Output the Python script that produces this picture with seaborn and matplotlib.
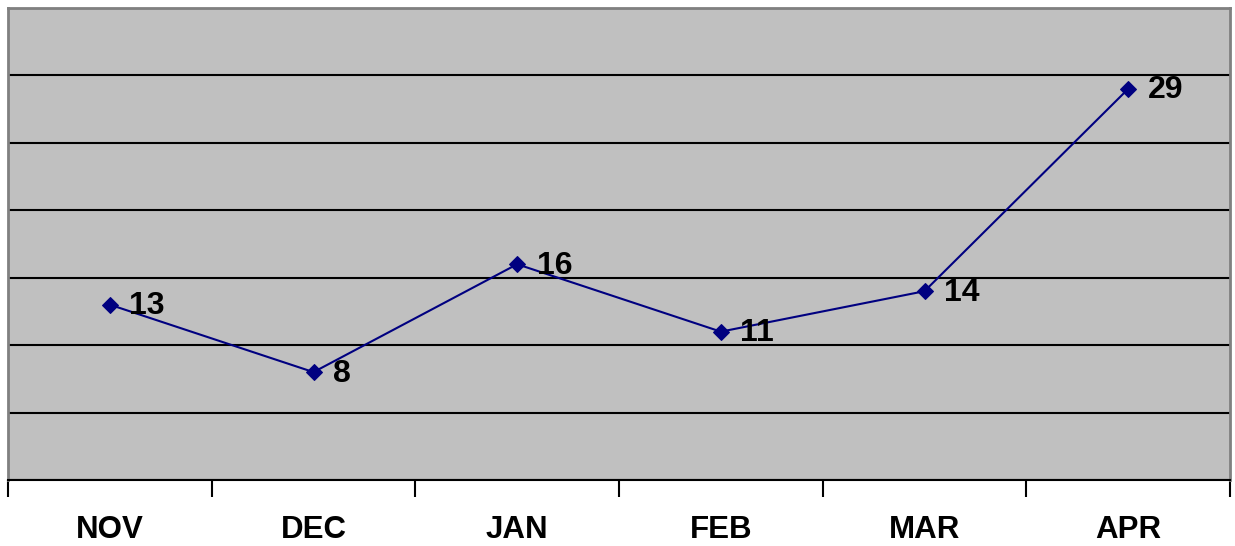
import matplotlib
matplotlib.use('Agg')

import pandas as pd
import matplotlib.pyplot as plt
import seaborn as sns

# Data
months = ["NOV", "DEC", "JAN", "FEB", "MAR", "APR"]
counts = [13, 8, 16, 11, 14, 29]

df = pd.DataFrame({"month": months, "count": counts})

sns.set_style("white")
plt.rcParams['font.family'] = ['Liberation Sans', 'DejaVu Sans']
plt.rcParams['text.color'] = 'black'
plt.rcParams['xtick.color'] = 'black'
plt.rcParams['xtick.labelcolor'] = 'black'

fig = plt.figure(figsize=(12.35, 5.46), dpi=100)
ax = fig.add_axes([8 / 1235, 1 - 480 / 546, 1222 / 1235, 472 / 546])
ax.set_facecolor('#C0C0C0')

sns.lineplot(data=df, x='month', y='count', ax=ax, color='#000080',
             linewidth=1.5, marker='D', markersize=8, markeredgecolor='#000080')

# Data labels
for i, v in enumerate(counts):
    ax.annotate(str(v), (i, v), xytext=(14, -1), textcoords='offset points',
                va='center', ha='left', fontsize=23, fontweight='bold', color='black')

ax.set_xlim(-0.5, 5.5)
ax.set_ylim(0, 35)

# Horizontal gridlines
ax.set_yticks(range(0, 36, 5))
ax.set_yticklabels([])
ax.tick_params(axis='y', length=0)
ax.yaxis.grid(True, color='black', linewidth=1.5)
ax.xaxis.grid(False)
ax.set_axisbelow(True)

# Category labels between tick marks
ax.set_xticks([x - 0.5 for x in range(7)])
ax.set_xticklabels([])
ax.set_xticks(range(6), minor=True)
ax.set_xticklabels(months, minor=True, fontsize=22.5, fontweight='bold', color='black')
ax.tick_params(axis='x', which='major', direction='out', length=12, width=1.5,
               color='black', bottom=True)
ax.tick_params(axis='x', which='minor', length=0, pad=25, bottom=True)

ax.set_xlabel("")
ax.set_ylabel("")

for side in ['top', 'left', 'right']:
    ax.spines[side].set_color('#808080')
    ax.spines[side].set_linewidth(2)
ax.spines['bottom'].set_color('black')
ax.spines['bottom'].set_linewidth(1.5)

fig.savefig("out.png", dpi=100)
